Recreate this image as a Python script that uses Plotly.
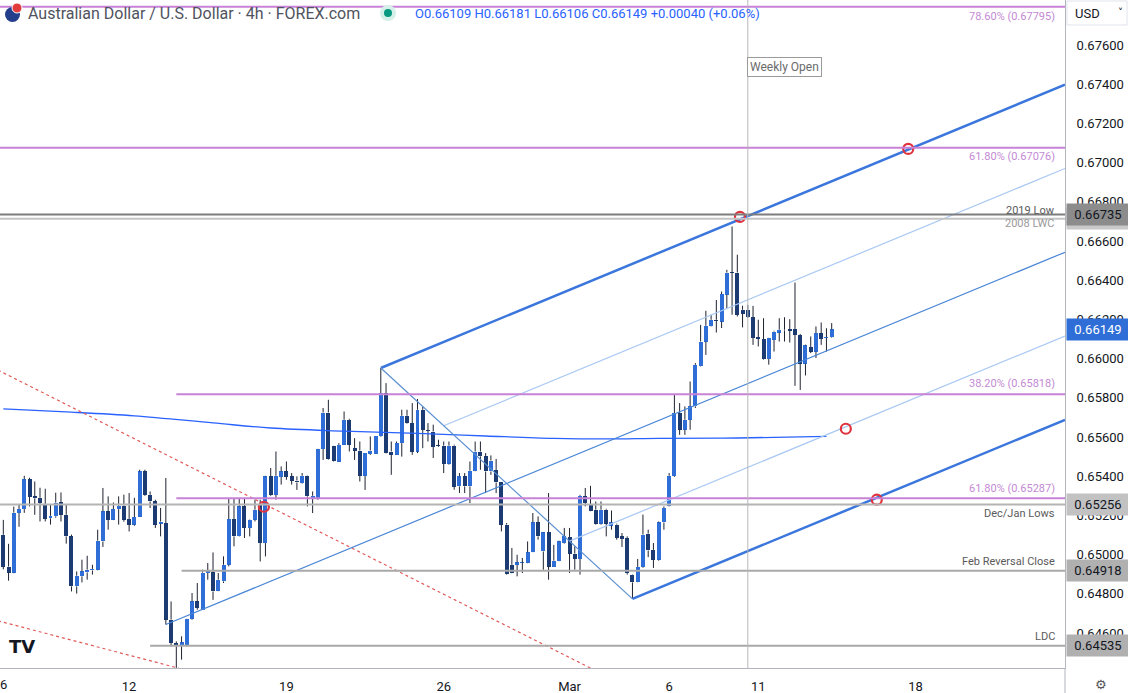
import plotly.graph_objects as go

# ---------------- data (AUD/USD 4h candles, index = bar number) ----------------
opens = [0.65101, 0.64939, 0.64908, 0.65213, 0.65232, 0.65385, 0.65297, 0.65290, 0.65255, 0.65185,
         0.65195, 0.65266, 0.65203, 0.65093, 0.64838, 0.64889, 0.64909, 0.64919, 0.64923, 0.65067,
         0.65220, 0.65178, 0.65232, 0.65249, 0.65182, 0.65153, 0.65193, 0.65424, 0.65305, 0.65271,
         0.65158, 0.65161, 0.64668, 0.64549, 0.64535, 0.64535, 0.64672, 0.64761, 0.64719, 0.64906,
         0.64909, 0.64812, 0.64863, 0.64948, 0.65181, 0.65093, 0.65246, 0.65136, 0.65178, 0.65255,
         0.65059, 0.65399, 0.65305, 0.65396, 0.65424, 0.65399, 0.65378, 0.65365, 0.65402, 0.65285,
         0.65284, 0.65539, 0.65725, 0.65552, 0.65475, 0.65560, 0.65688, 0.65543, 0.65531, 0.65402,
         0.65514, 0.65514, 0.65603, 0.65824, 0.65526, 0.65509, 0.65569, 0.65708, 0.65671, 0.65526,
         0.65739, 0.65634, 0.65628, 0.65556, 0.65556, 0.65464, 0.65556, 0.65348, 0.65399, 0.65348,
         0.65424, 0.65526, 0.65501, 0.65424, 0.65432, 0.65368, 0.65153, 0.64948, 0.64948, 0.64957,
         0.64957, 0.65011, 0.65164, 0.65016, 0.65113, 0.64939, 0.64965, 0.65059, 0.65090, 0.65005,
         0.64978, 0.65297, 0.65255, 0.65229, 0.65158, 0.65229, 0.65148, 0.65153, 0.65093, 0.65085,
         0.64898, 0.64858, 0.64937, 0.65107, 0.65024, 0.64974, 0.65164, 0.65246, 0.65402, 0.65722,
         0.65637, 0.65688, 0.65756, 0.65960, 0.66087, 0.66164, 0.66198, 0.66189, 0.66326, 0.66439,
         0.66439, 0.66249, 0.66249, 0.66212, 0.66110, 0.66100, 0.65998, 0.66096, 0.66133, 0.66147,
         0.66150, 0.66150, 0.66121, 0.65974, 0.66059, 0.66036, 0.66130, 0.66105, 0.66109]
highs = [0.65177, 0.65055, 0.65245, 0.65254, 0.65402, 0.65392, 0.65373, 0.65341, 0.65336, 0.65255,
         0.65316, 0.65317, 0.65254, 0.65102, 0.64914, 0.64974, 0.64994, 0.64948, 0.65127, 0.65340,
         0.65297, 0.65266, 0.65297, 0.65306, 0.65314, 0.65290, 0.65433, 0.65433, 0.65322, 0.65280,
         0.65238, 0.65391, 0.64761, 0.64557, 0.64583, 0.64673, 0.64804, 0.64855, 0.64923, 0.64957,
         0.65011, 0.64906, 0.64991, 0.65289, 0.65289, 0.65289, 0.65289, 0.65180, 0.65280, 0.65280,
         0.65402, 0.65442, 0.65526, 0.65450, 0.65475, 0.65416, 0.65399, 0.65416, 0.65404, 0.65322,
         0.65540, 0.65748, 0.65790, 0.65555, 0.65569, 0.65730, 0.65693, 0.65594, 0.65577, 0.65518,
         0.65603, 0.65603, 0.65952, 0.65875, 0.65577, 0.65577, 0.65739, 0.65739, 0.65773, 0.65794,
         0.65756, 0.65671, 0.65663, 0.65586, 0.65577, 0.65577, 0.65561, 0.65416, 0.65416, 0.65475,
         0.65577, 0.65577, 0.65518, 0.65506, 0.65488, 0.65370, 0.65161, 0.65034, 0.64999, 0.64983,
         0.65067, 0.65212, 0.65195, 0.65115, 0.65314, 0.65050, 0.65071, 0.65136, 0.65136, 0.65042,
         0.65305, 0.65340, 0.65351, 0.65271, 0.65271, 0.65234, 0.65225, 0.65158, 0.65110, 0.65093,
         0.64900, 0.64978, 0.65204, 0.65127, 0.65059, 0.65169, 0.65246, 0.65416, 0.65815, 0.65773,
         0.65756, 0.65883, 0.65977, 0.66172, 0.66244, 0.66223, 0.66299, 0.66342, 0.66453, 0.66674,
         0.66530, 0.66270, 0.66274, 0.66269, 0.66198, 0.66206, 0.66106, 0.66142, 0.66206, 0.66211,
         0.66201, 0.66388, 0.66126, 0.66071, 0.66113, 0.66164, 0.66184, 0.66155, 0.66181]
lows = [0.64925, 0.64867, 0.64905, 0.65142, 0.65213, 0.65246, 0.65203, 0.65169, 0.65169, 0.65153,
        0.65188, 0.65169, 0.65056, 0.64812, 0.64801, 0.64858, 0.64872, 0.64898, 0.64920, 0.65039,
        0.65127, 0.65176, 0.65153, 0.65168, 0.65118, 0.65147, 0.65192, 0.65300, 0.65238, 0.65136,
        0.65093, 0.64643, 0.64532, 0.64422, 0.64464, 0.64532, 0.64668, 0.64719, 0.64718, 0.64872,
        0.64769, 0.64811, 0.64855, 0.64940, 0.65042, 0.65091, 0.65085, 0.65093, 0.65169, 0.64965,
        0.64991, 0.65300, 0.65280, 0.65357, 0.65382, 0.65357, 0.65330, 0.65362, 0.65246, 0.65212,
        0.65280, 0.65483, 0.65484, 0.65475, 0.65473, 0.65559, 0.65526, 0.65483, 0.65373, 0.65330,
        0.65509, 0.65514, 0.65600, 0.65516, 0.65407, 0.65508, 0.65500, 0.65668, 0.65509, 0.65518,
        0.65543, 0.65577, 0.65493, 0.65550, 0.65416, 0.65459, 0.65331, 0.65314, 0.65314, 0.65263,
        0.65423, 0.65433, 0.65314, 0.65407, 0.65314, 0.65118, 0.64898, 0.64905, 0.64889, 0.64906,
        0.64956, 0.65010, 0.65076, 0.64923, 0.64872, 0.64938, 0.64964, 0.65056, 0.64906, 0.64923,
        0.64898, 0.65246, 0.65219, 0.65153, 0.65153, 0.65093, 0.65127, 0.65076, 0.65039, 0.64898,
        0.64774, 0.64857, 0.64933, 0.64987, 0.64932, 0.64969, 0.65127, 0.65244, 0.65397, 0.65611,
        0.65611, 0.65637, 0.65748, 0.65958, 0.66019, 0.66162, 0.66133, 0.66156, 0.66257, 0.66224,
        0.66215, 0.66159, 0.66208, 0.66070, 0.66062, 0.65995, 0.65969, 0.66036, 0.66087, 0.66087,
        0.66082, 0.65861, 0.65840, 0.65914, 0.66028, 0.66003, 0.66070, 0.66036, 0.66106]
closes = [0.64938, 0.64908, 0.65214, 0.65233, 0.65385, 0.65294, 0.65287, 0.65265, 0.65183, 0.65198,
          0.65265, 0.65203, 0.65093, 0.64838, 0.64892, 0.64914, 0.64923, 0.64927, 0.65071, 0.65220,
          0.65178, 0.65232, 0.65249, 0.65178, 0.65153, 0.65192, 0.65424, 0.65305, 0.65271, 0.65153,
          0.65168, 0.64668, 0.64549, 0.64535, 0.64552, 0.64672, 0.64761, 0.64728, 0.64908, 0.64914,
          0.64812, 0.64872, 0.64948, 0.65181, 0.65093, 0.65246, 0.65136, 0.65178, 0.65229, 0.65059,
          0.65399, 0.65305, 0.65402, 0.65424, 0.65396, 0.65378, 0.65368, 0.65402, 0.65297, 0.65300,
          0.65539, 0.65725, 0.65487, 0.65480, 0.65560, 0.65688, 0.65560, 0.65531, 0.65402, 0.65518,
          0.65531, 0.65603, 0.65824, 0.65518, 0.65509, 0.65569, 0.65708, 0.65671, 0.65526, 0.65739,
          0.65637, 0.65632, 0.65549, 0.65554, 0.65464, 0.65556, 0.65345, 0.65399, 0.65348, 0.65428,
          0.65526, 0.65501, 0.65424, 0.65480, 0.65368, 0.65153, 0.64901, 0.64906, 0.64960, 0.64958,
          0.65011, 0.65164, 0.65093, 0.65113, 0.64939, 0.64969, 0.65067, 0.65093, 0.65005, 0.64978,
          0.65300, 0.65263, 0.65220, 0.65158, 0.65229, 0.65158, 0.65164, 0.65085, 0.65079, 0.64906,
          0.64858, 0.64937, 0.65102, 0.65021, 0.64974, 0.65164, 0.65238, 0.65402, 0.65722, 0.65637,
          0.65688, 0.65756, 0.65968, 0.66087, 0.66167, 0.66198, 0.66193, 0.66329, 0.66439, 0.66437,
          0.66224, 0.66229, 0.66212, 0.66105, 0.66100, 0.65998, 0.66105, 0.66138, 0.66147, 0.66144,
          0.66143, 0.66121, 0.65974, 0.66067, 0.66036, 0.66130, 0.66100, 0.66109, 0.66149]

# moving average (read at a few bars)
ma_idx = [0, 12, 25, 40, 51, 65, 79, 92, 105, 115, 125, 140, 157]
ma_val = [0.65743, 0.65728, 0.65708, 0.65672, 0.65646, 0.65630, 0.65618, 0.65605,
          0.65593, 0.65590, 0.65593, 0.65595, 0.65603]

# x-axis day labels (bar index of each labelled day)
tick_idx = [24, 54, 84, 108, 127, 144, 174]
tick_lbl = ["12", "19", "26", "Mar", "6", "11", "18"]
first_day_idx, first_day_lbl = 0, "6"

price_ticks = [0.646, 0.648, 0.650, 0.652, 0.654, 0.656, 0.658, 0.660,
               0.662, 0.664, 0.666, 0.668, 0.670, 0.672, 0.674, 0.676]

# Fibonacci levels
fib_price = [0.67795, 0.67076, 0.65818, 0.65287]
fib_label = ["78.60% (0.67795)", "61.80% (0.67076)", "38.20% (0.65818)", "61.80% (0.65287)"]
fib_start = [-1, -1, 33, 33]
fib_shift = [-10, -9, 11, 10]

# support / resistance levels
sr_price = [0.66735, 0.66713, 0.65256, 0.64918, 0.64535]
sr_label = ["2019 Low", "2008 LWC", "Dec/Jan Lows", "Feb Reversal Close", "LDC"]
sr_start = [-1, -1, -1, 34, 28]
sr_shift = [4, -5, -9, 9, 9]
sr_line = ["#7d7d7d", "#c4c4c4", "#b4b4b4", "#a9a9a9", "#a9a9a9"]
sr_text = ["#5a5a5a", "#9a9a9a", "#5a5a5a", "#5a5a5a", "#5a5a5a"]

# pitchfork anchors (A, B, C)
pf_x = [31, 72, 120]
pf_y = [0.64643, 0.65952, 0.64774]

# red dotted trendlines
red1_x = [-1, 112]
red1_y = [0.65941, 0.64421]
red2_x = [-1, 33.5]
red2_y = [0.64662, 0.64420]

# red circles
circ_x = [49.7, 140.5, 172.6, 160.7, 166.6]
circ_y = [0.65244, 0.66723, 0.67070, 0.65642, 0.65280]

weekly_open_idx = 142

# price-scale boxes
box_price = [0.66713, 0.66735, 0.66149, 0.65256, 0.64918, 0.64535]
box_bg = ["#c9c9c9", "#8c8c8c", "#2e6ed6", "#c2c2c2", "#b0b0b0", "#b0b0b0"]
box_fg = ["#131722", "#131722", "#ffffff", "#131722", "#131722", "#131722"]

# ---------------- figure ----------------
X0, X1 = -0.63, 202.5
Y0, Y1 = 0.644214, 0.678296
PW, PH = 1065, 668
UP, DOWN, WICK = "#2e6ed6", "#1c3b72", "#1f2330"
FONT = "Roboto"

def px(x):
    return x / PW

def py(y):
    return 1 - y / PH

fig = go.Figure()

n = len(opens)
idx = list(range(n))
body_lo = [min(o, c) for o, c in zip(opens, closes)]
body_hi = [max(o, c) for o, c in zip(opens, closes)]
wx, wy = [], []
for i in idx:
    wx += [i, i, None, i, i, None]
    wy += [lows[i], body_lo[i], None, body_hi[i], highs[i], None]
fig.add_trace(go.Scatter(x=wx, y=wy, mode="lines", line=dict(color=WICK, width=1),
                         hoverinfo="skip", showlegend=False))
heights = [max(h - l, 0.00003) for h, l in zip(body_hi, body_lo)]
colors = [UP if c >= o else DOWN for o, c in zip(opens, closes)]
fig.add_trace(go.Bar(x=idx, y=heights, base=body_lo, width=0.76,
                     marker=dict(color=colors, line=dict(width=0)),
                     hoverinfo="skip", showlegend=False))

# moving average
fig.add_trace(go.Scatter(x=ma_idx, y=ma_val, mode="lines", line=dict(color="#2962ff", width=1.3, shape="spline"),
                         hoverinfo="skip", showlegend=False))

# red dotted trendlines
for xs, ys in [(red1_x, red1_y), (red2_x, red2_y)]:
    fig.add_trace(go.Scatter(x=xs, y=ys, mode="lines", line=dict(color="#e05a5a", width=1.2, dash="dot"),
                             hoverinfo="skip", showlegend=False))

# pitchfork
ax, bx, cx = pf_x
ay, by, cy = pf_y
mx, my = (bx + cx) / 2, (by + cy) / 2
s = (my - ay) / (mx - ax)

def ray(x0, y0):
    return [x0, X1], [y0, y0 + s * (X1 - x0)]

pf_lines = [
    (ray(bx, by), "#3a76dc", 2.5),
    (ray(cx, cy), "#3a76dc", 2.5),
    (ray(ax, ay), "#4a86d6", 1.2),
    (ray((bx + mx) / 2, (by + my) / 2), "#a9c8f2", 1.2),
    (ray((mx + cx) / 2, (my + cy) / 2), "#a9c8f2", 1.2),
    (([bx, cx], [by, cy]), "#5a8fd0", 1.2),
]
for (xs, ys), col, w in pf_lines:
    fig.add_trace(go.Scatter(x=xs, y=ys, mode="lines", line=dict(color=col, width=w),
                             hoverinfo="skip", showlegend=False))

# circles
fig.add_trace(go.Scatter(x=circ_x, y=circ_y, mode="markers",
                         marker=dict(symbol="circle-open", size=10, color="#e0323c", line=dict(width=2.2)),
                         hoverinfo="skip", showlegend=False))

shapes = []
annotations = []

# horizontal levels
for p, lab, st, sh in zip(fib_price, fib_label, fib_start, fib_shift):
    shapes.append(dict(type="line", xref="x", yref="y", x0=st, x1=X1 + 5, y0=p, y1=p,
                       line=dict(color="#c882d6", width=2)))
    annotations.append(dict(xref="paper", yref="y", x=px(1057), y=p, yshift=sh, xanchor="right",
                            yanchor="middle", text=lab, showarrow=False,
                            font=dict(family=FONT, size=11, color="#c48ad4")))
for p, lab, st, sh, lc, tc in zip(sr_price, sr_label, sr_start, sr_shift, sr_line, sr_text):
    shapes.append(dict(type="line", xref="x", yref="y", x0=st, x1=X1 + 5, y0=p, y1=p,
                       line=dict(color=lc, width=2)))
    annotations.append(dict(xref="paper", yref="y", x=px(1057), y=p, yshift=sh, xanchor="right",
                            yanchor="middle", text=lab, showarrow=False,
                            font=dict(family=FONT, size=11, color=tc)))

# weekly open
shapes.append(dict(type="line", xref="x", yref="paper", x0=weekly_open_idx, x1=weekly_open_idx, y0=0, y1=1,
                   line=dict(color="#b8b8b8", width=1)))
annotations.append(dict(xref="x", yref="paper", x=weekly_open_idx, y=py(67), xanchor="left", yanchor="middle",
                        text="Weekly Open", showarrow=False, bgcolor="white", bordercolor="#9a9a9a",
                        borderwidth=1, borderpad=2, xshift=-1,
                        font=dict(family=FONT, size=12, color="#6b6b6b")))

# price-scale boxes
for p, bg, fg in zip(box_price, box_bg, box_fg):
    annotations.append(dict(xref="paper", yref="y", x=1, y=p, xanchor="left", yanchor="middle",
                            xshift=1, text=f"{p:.5f}", showarrow=False, bgcolor=bg, width=56,
                            align="center", borderpad=3, font=dict(family=FONT, size=13, color=fg)))

# first (partially cut) day label
annotations.append(dict(xref="x", yref="paper", x=first_day_idx, y=py(684), xanchor="center", yanchor="middle",
                        text=first_day_lbl, showarrow=False, font=dict(family=FONT, size=13, color="#131722")))

# header
shapes.append(dict(type="circle", xref="paper", yref="paper", x0=px(5), x1=px(20), y0=py(22), y1=py(7),
                   fillcolor="#233e8b", line=dict(width=0)))
shapes.append(dict(type="circle", xref="paper", yref="paper", x0=px(12), x1=px(22), y0=py(13), y1=py(3),
                   fillcolor="#e23b3b", line=dict(color="white", width=1)))
shapes.append(dict(type="circle", xref="paper", yref="paper", x0=px(380), x1=px(396), y0=py(21), y1=py(5),
                   fillcolor="#d5efe9", line=dict(width=0)))
shapes.append(dict(type="circle", xref="paper", yref="paper", x0=px(384), x1=px(392), y0=py(17), y1=py(9),
                   fillcolor="#089981", line=dict(width=0)))
annotations.append(dict(xref="paper", yref="paper", x=px(26), y=py(13), xanchor="left", yanchor="middle",
                        text="Australian Dollar / U.S. Dollar · 4h · FOREX.com", showarrow=False,
                        font=dict(family=FONT, size=16, color="#50535e")))
annotations.append(dict(xref="paper", yref="paper", x=px(413), y=py(13), xanchor="left", yanchor="middle",
                        text="O0.66109 H0.66181 L0.66106 C0.66149 +0.00040 (+0.06%)", showarrow=False,
                        font=dict(family=FONT, size=13, color="#2962ff")))

# USD box
shapes.append(dict(type="rect", xref="paper", yref="paper", x0=px(1067), x1=px(1127), y0=py(25), y1=py(1),
                   fillcolor="white", line=dict(color="#e0e3eb", width=1)))
annotations.append(dict(xref="paper", yref="paper", x=px(1073), y=py(13), xanchor="left", yanchor="middle",
                        text="USD", showarrow=False, font=dict(family=FONT, size=13, color="#131722")))
annotations.append(dict(xref="paper", yref="paper", x=px(1120), y=py(12), xanchor="center", yanchor="middle",
                        text="˅", showarrow=False, font=dict(family="DejaVu Sans", size=10, color="#131722")))

# TradingView logo and gear
annotations.append(dict(xref="paper", yref="paper", x=px(7), y=py(646), xanchor="left", yanchor="middle",
                        text="<b>TV</b>", showarrow=False,
                        font=dict(family="DejaVu Sans", size=18, color="#131722")))
annotations.append(dict(xref="paper", yref="paper", x=px(1101), y=py(684), xanchor="center", yanchor="middle",
                        text="⚙", showarrow=False, font=dict(family="DejaVu Sans", size=13, color="#555")))
shapes.append(dict(type="line", xref="paper", yref="paper", x0=1, x1=1, y0=py(693), y1=0,
                   line=dict(color="#b2b5be", width=1)))

fig.update_layout(
    width=1128, height=693,
    margin=dict(l=0, r=63, t=0, b=25),
    paper_bgcolor="white", plot_bgcolor="white",
    showlegend=False, barmode="overlay", bargap=0,
    shapes=shapes, annotations=annotations,
    font=dict(family=FONT, size=13, color="#131722"),
    xaxis=dict(range=[X0, X1], tickvals=tick_idx, ticktext=tick_lbl, showgrid=False, zeroline=False,
               showline=True, linecolor="#b2b5be", linewidth=1, ticks="", ticklabelstandoff=6,
               tickfont=dict(family=FONT, size=13, color="#131722"), automargin=False, fixedrange=True),
    yaxis=dict(range=[Y0, Y1], side="right", tickvals=price_ticks,
               ticktext=[f"{v:.5f}" for v in price_ticks], showgrid=False, zeroline=False,
               showline=True, linecolor="#b2b5be", linewidth=1, ticks="", ticklabelstandoff=8,
               tickfont=dict(family=FONT, size=13, color="#131722"), automargin=False, fixedrange=True),
)

fig.write_html("out.html", config={"displayModeBar": False, "staticPlot": True},
               post_script="document.body.style.margin='0px';document.body.style.overflow='hidden';")
